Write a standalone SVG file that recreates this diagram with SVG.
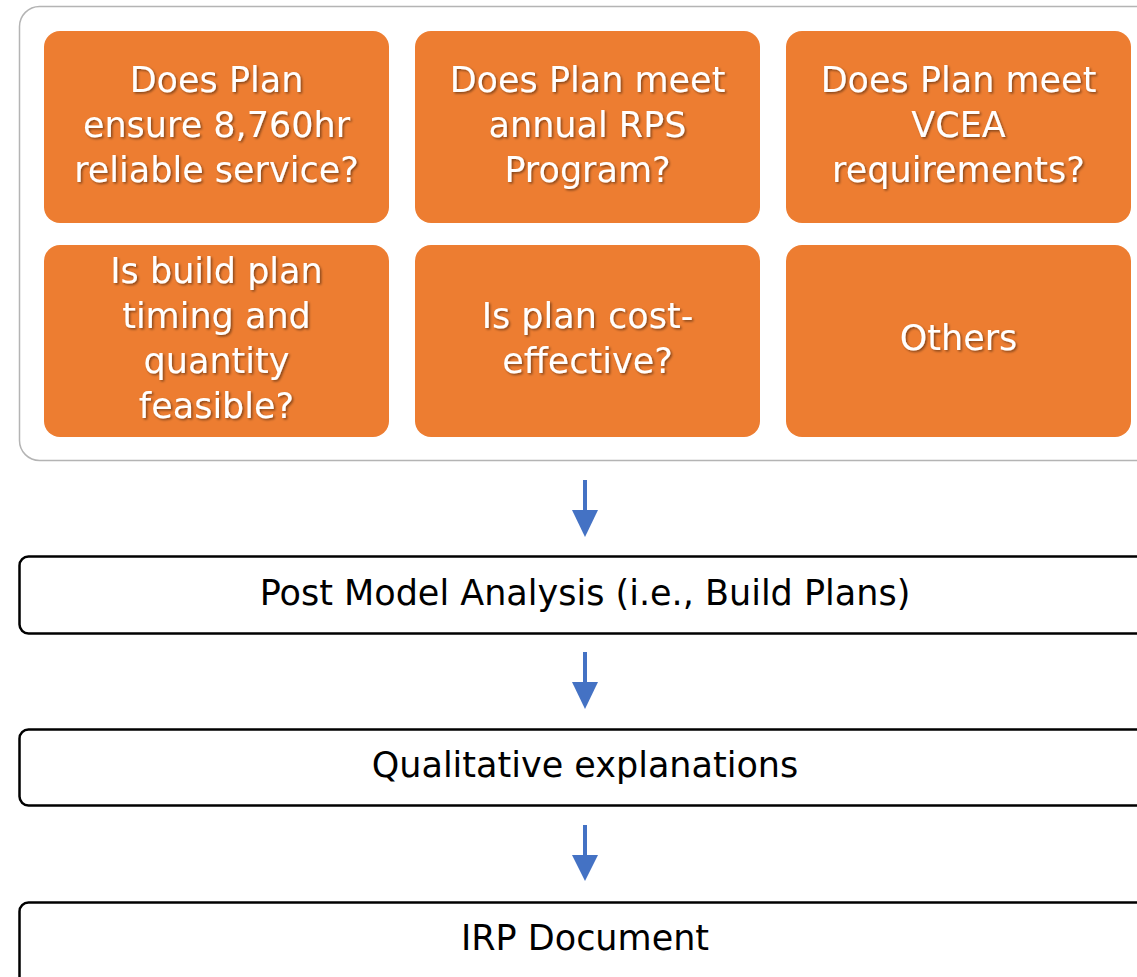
<svg xmlns="http://www.w3.org/2000/svg" width="1137" height="977" viewBox="0 0 1137 977">
<defs>
<style>
.q{fill:#ED7D31;}
.qt{font-family:"DejaVu Sans",sans-serif;font-size:35px;fill:#fff;text-anchor:middle;filter:url(#sh);}
.st{fill:#fff;stroke:#000;stroke-width:2.5;}
.stt{font-family:"DejaVu Sans",sans-serif;font-size:35px;fill:#000;text-anchor:middle;}
.arr{fill:#4472C4;}
</style>
<filter id="sh" x="-10%" y="-10%" width="120%" height="140%">
<feDropShadow dx="1.5" dy="1.5" stdDeviation="1" flood-color="#000" flood-opacity="0.45"/>
</filter>
</defs>
<rect width="1137" height="977" fill="#fff"/>
<g id="container">
<rect x="19.5" y="6.5" width="1140" height="454" rx="20" fill="#fff" stroke="#b4b4b4" stroke-width="1.5"/>
</g>
<g id="n1"><rect class="q" x="44" y="31" width="345" height="192" rx="16"/>
<text class="qt"><tspan x="216.5" y="92">Does Plan</tspan><tspan x="216.5" y="137">ensure 8,760hr</tspan><tspan x="216.5" y="182">reliable service?</tspan></text></g>
<g id="n2"><rect class="q" x="415" y="31" width="345" height="192" rx="16"/>
<text class="qt"><tspan x="587.5" y="92">Does Plan meet</tspan><tspan x="587.5" y="137">annual RPS</tspan><tspan x="587.5" y="182">Program?</tspan></text></g>
<g id="n3"><rect class="q" x="786" y="31" width="345" height="192" rx="16"/>
<text class="qt"><tspan x="958.5" y="92">Does Plan meet</tspan><tspan x="958.5" y="137">VCEA</tspan><tspan x="958.5" y="182">requirements?</tspan></text></g>
<g id="n4"><rect class="q" x="44" y="245" width="345" height="192" rx="16"/>
<text class="qt"><tspan x="216.5" y="283">Is build plan</tspan><tspan x="216.5" y="328">timing and</tspan><tspan x="216.5" y="373">quantity</tspan><tspan x="216.5" y="418">feasible?</tspan></text></g>
<g id="n5"><rect class="q" x="415" y="245" width="345" height="192" rx="16"/>
<text class="qt"><tspan x="587.5" y="328">Is plan cost-</tspan><tspan x="587.5" y="373">effective?</tspan></text></g>
<g id="n6"><rect class="q" x="786" y="245" width="345" height="192" rx="16"/>
<text class="qt"><tspan x="958.5" y="350">Others</tspan></text></g>
<g id="connectors">
<rect class="arr" x="583" y="480" width="4" height="32"/><polygon class="arr" points="572,510 598,510 585,537"/>
<rect class="arr" x="583" y="652" width="4" height="32"/><polygon class="arr" points="572,682 598,682 585,709"/>
<rect class="arr" x="583" y="825" width="4" height="32"/><polygon class="arr" points="572,855 598,855 585,881"/>
</g>
<g id="s1"><rect class="st" x="19.5" y="556.5" width="1140" height="77" rx="9"/>
<text class="stt" x="585" y="605">Post Model Analysis (i.e., Build Plans)</text></g>
<g id="s2"><rect class="st" x="19.5" y="729.5" width="1140" height="76" rx="9"/>
<text class="stt" x="585" y="777">Qualitative explanations</text></g>
<g id="s3"><rect class="st" x="19.5" y="902.5" width="1140" height="100" rx="9"/>
<text class="stt" x="585" y="950">IRP Document</text></g>
</svg>
